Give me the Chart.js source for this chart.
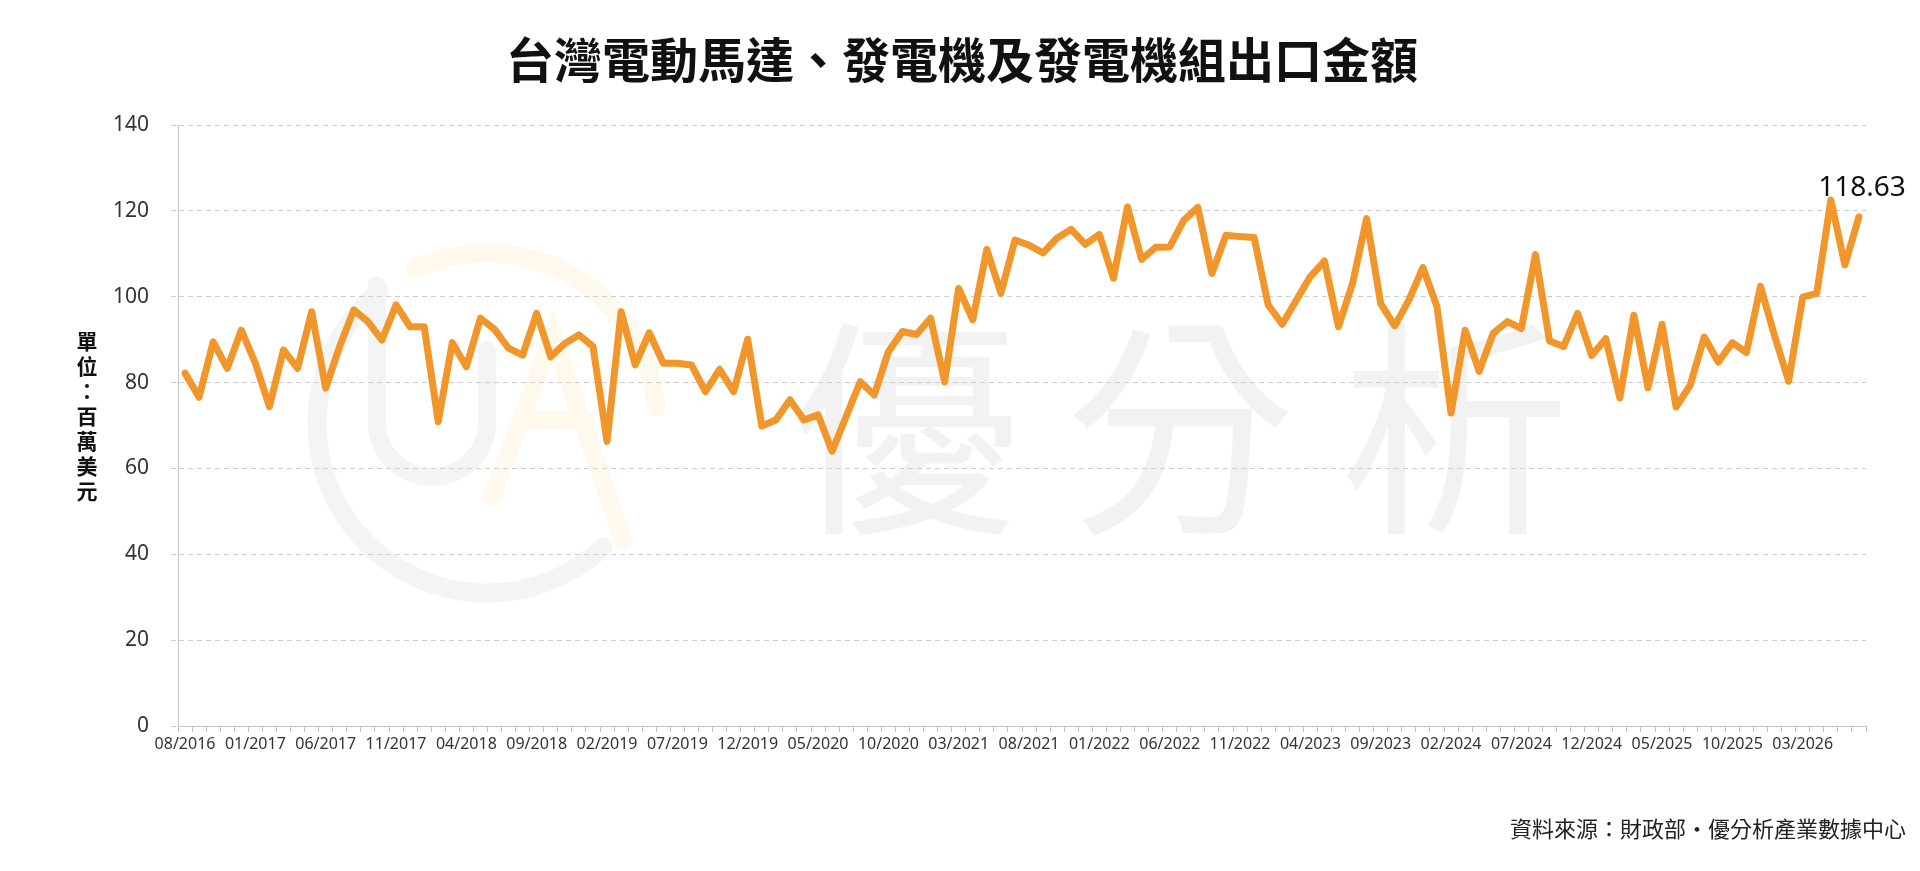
<!DOCTYPE html>
<html>
<head>
<meta charset="utf-8">
<script src="https://cdn.jsdelivr.net/npm/chart.js@4.4.1/dist/chart.umd.min.js"></script>
<style>
  html, body { margin: 0; padding: 0; background: #fff; }
  #wrap { width: 1920px; height: 871px; position: relative; }
</style>
</head>
<body>
<div id="wrap"><canvas id="exportChart" width="1920" height="871"></canvas></div>
<script>
// ---------------- data ----------------
const chartTitle = '台灣電動馬達、發電機及發電機組出口金額';
const yUnit = ['單', '位', '：', '百', '萬', '美', '元'];
const sourceText = '資料來源：財政部·優分析產業數據中心';
const watermarkChars = ['優', '分', '析'];

const months = [
  '08/2016','09/2016','10/2016','11/2016','12/2016',
  '01/2017','02/2017','03/2017','04/2017','05/2017','06/2017','07/2017','08/2017','09/2017','10/2017','11/2017','12/2017',
  '01/2018','02/2018','03/2018','04/2018','05/2018','06/2018','07/2018','08/2018','09/2018','10/2018','11/2018','12/2018',
  '01/2019','02/2019','03/2019','04/2019','05/2019','06/2019','07/2019','08/2019','09/2019','10/2019','11/2019','12/2019',
  '01/2020','02/2020','03/2020','04/2020','05/2020','06/2020','07/2020','08/2020','09/2020','10/2020','11/2020','12/2020',
  '01/2021','02/2021','03/2021','04/2021','05/2021','06/2021','07/2021','08/2021','09/2021','10/2021','11/2021','12/2021',
  '01/2022','02/2022','03/2022','04/2022','05/2022','06/2022','07/2022','08/2022','09/2022','10/2022','11/2022','12/2022',
  '01/2023','02/2023','03/2023','04/2023','05/2023','06/2023','07/2023','08/2023','09/2023','10/2023','11/2023','12/2023',
  '01/2024','02/2024','03/2024','04/2024','05/2024','06/2024','07/2024','08/2024','09/2024','10/2024','11/2024','12/2024',
  '01/2025','02/2025','03/2025','04/2025','05/2025','06/2025','07/2025','08/2025','09/2025','10/2025','11/2025','12/2025',
  '01/2026','02/2026','03/2026','04/2026','05/2026','06/2026','07/2026'
];

// export value, million USD
const exportValue = [
  82.2, 76.6, 89.5, 83.3, 92.2,
  84.5, 74.4, 87.6, 83.3, 96.5, 78.7, 88.5, 96.9, 94.2, 89.9, 98.1, 93.0,
  93.0, 70.9, 89.3, 83.7, 95.0, 92.4, 88.0, 86.4, 96.1, 86.0, 89.1, 91.1,
  88.4, 66.3, 96.5, 84.1, 91.6, 84.5, 84.5, 84.1, 77.9, 83.1, 77.9, 90.1,
  69.9, 71.3, 76.0, 71.3, 72.5, 64.0, 72.1, 80.2, 77.1, 87.2, 91.9, 91.2,
  95.0, 80.2, 101.9, 94.6, 111.0, 100.8, 113.2, 112.0, 110.2, 113.7, 115.7, 112.2,
  114.5, 104.3, 120.9, 108.7, 111.5, 111.6, 117.8, 120.8, 105.4, 114.3, 114.0, 113.8,
  98.1, 93.6, 99.2, 104.7, 108.3, 93.0, 103.1, 118.2, 98.4, 93.2, 99.2, 106.8,
  97.7, 72.9, 92.2, 82.6, 91.5, 94.2, 92.6, 109.8, 89.7, 88.4, 96.1, 86.3,
  90.2, 76.4, 95.7, 78.8, 93.6, 74.3, 79.4, 90.6, 84.8, 89.3, 87.0, 102.4,
  90.9, 80.3, 99.9, 100.8, 122.5, 107.4, 118.63
];

const yTicks = [0, 20, 40, 60, 80, 100, 120, 140];
const labelEvery = 5;

// ---------------- drawing helpers ----------------
const cjk = '"Noto Sans CJK TC", "Noto Sans CJK SC", sans-serif';
const latin = '"Noto Sans", "DejaVu Sans", sans-serif';

const backgroundMark = {
  id: 'backgroundMark',
  beforeDraw(chart) {
    const ctx = chart.ctx;
    ctx.save();
    ctx.fillStyle = '#ffffff';
    ctx.fillRect(0, 0, chart.width, chart.height);

    // faint logo ring
    ctx.lineCap = 'round';
    ctx.lineWidth = 19;
    ctx.strokeStyle = '#f4f4f4';
    ctx.beginPath();
    ctx.arc(487, 423, 170, 0.26 * Math.PI, 1.28 * Math.PI);
    ctx.stroke();
    ctx.strokeStyle = '#fff8ed';
    ctx.beginPath();
    ctx.arc(487, 423, 170, 1.36 * Math.PI, 1.97 * Math.PI);
    ctx.stroke();

    // U
    ctx.strokeStyle = '#f4f4f4';
    ctx.lineWidth = 18;
    ctx.beginPath();
    ctx.moveTo(377, 285);
    ctx.lineTo(377, 422);
    ctx.arc(432, 422, 55, Math.PI, 0, true);
    ctx.lineTo(487, 350);
    ctx.stroke();

    // A
    ctx.strokeStyle = '#fff8ed';
    ctx.beginPath();
    ctx.moveTo(492, 497);
    ctx.lineTo(553, 335);
    ctx.lineTo(623, 540);
    ctx.moveTo(525, 420);
    ctx.lineTo(585, 420);
    ctx.stroke();

    // 優分析 text
    ctx.fillStyle = '#f2f2f2';
    ctx.font = '230px ' + cjk;
    ctx.textAlign = 'center';
    ctx.textBaseline = 'middle';
    const xs = [905, 1180, 1455];
    for (let i = 0; i < watermarkChars.length; i++) {
      ctx.fillText(watermarkChars[i], xs[i], 428);
    }
    ctx.restore();
  }
};

const chartTexts = {
  id: 'chartTexts',
  afterDraw(chart) {
    const ctx = chart.ctx;
    ctx.save();

    // title
    ctx.fillStyle = '#111';
    ctx.font = 'bold 48px ' + cjk;
    ctx.textAlign = 'center';
    ctx.textBaseline = 'middle';
    ctx.fillText(chartTitle, 962, 60);

    // unit, stacked vertically
    ctx.font = 'bold 21px ' + cjk;
    for (let i = 0; i < yUnit.length; i++) {
      ctx.fillText(yUnit[i], 87, 341 + i * 25);
    }

    // last value label
    const xs = chart.scales.x, ys = chart.scales.y;
    const last = exportValue.length - 1;
    ctx.font = '28px ' + latin;
    ctx.textBaseline = 'alphabetic';
    ctx.fillText(exportValue[last].toFixed(2),
      xs.getPixelForValue(last) + 3, ys.getPixelForValue(exportValue[last]) - 21);

    // source
    ctx.font = '22px ' + cjk;
    ctx.textAlign = 'right';
    ctx.textBaseline = 'middle';
    ctx.fillStyle = '#222';
    ctx.fillText(sourceText, 1906, 829);
    ctx.restore();
  }
};

const data = {
  labels: months,
  datasets: [{
    label: chartTitle,
    data: exportValue,
    borderColor: '#F0962B',
    borderWidth: 7,
    borderJoinStyle: 'round',
    borderCapStyle: 'round',
    pointRadius: 0,
    tension: 0,
    fill: false
  }]
};

const config = {
  type: 'line',
  data: data,
  options: {
    responsive: false,
    animation: false,
    devicePixelRatio: 1,
    layout: { padding: { top: 125, right: 54, bottom: 0, left: 0 } },
    plugins: {
      legend: { display: false },
      tooltip: { enabled: false },
      title: { display: false }
    },
    scales: {
      x: {
        type: 'category',
        offset: true,
        grid: { display: true, offset: true, drawOnChartArea: false, drawTicks: true, tickLength: 6, color: '#c4c4c4' },
        border: { display: true, color: '#c4c4c4', width: 1 },
        ticks: {
          autoSkip: false, maxRotation: 0, minRotation: 0, padding: 3,
          color: '#333', font: { family: latin, size: 16 },
          callback: function (v, i) { return i % labelEvery === 0 ? this.getLabelForValue(v) : ''; }
        },
        afterFit: function (s) { s.height = 145; }
      },
      y: {
        min: 0, max: 140,
        afterBuildTicks: function (s) { s.ticks = yTicks.map(v => ({ value: v })); },
        grid: { color: '#cdcdcd', tickLength: 7, drawTicks: true, tickBorderDash: [5, 4] },
        border: { display: true, color: '#c4c4c4', width: 1, dash: [5, 4] },
        ticks: { padding: 22, color: '#333', font: { family: latin, size: 21 } },
        afterFit: function (s) { s.width = 178; }
      }
    }
  },
  plugins: [backgroundMark, chartTexts]
};

const myChart = new Chart(document.getElementById('exportChart'), config);
</script>
</body>
</html>
